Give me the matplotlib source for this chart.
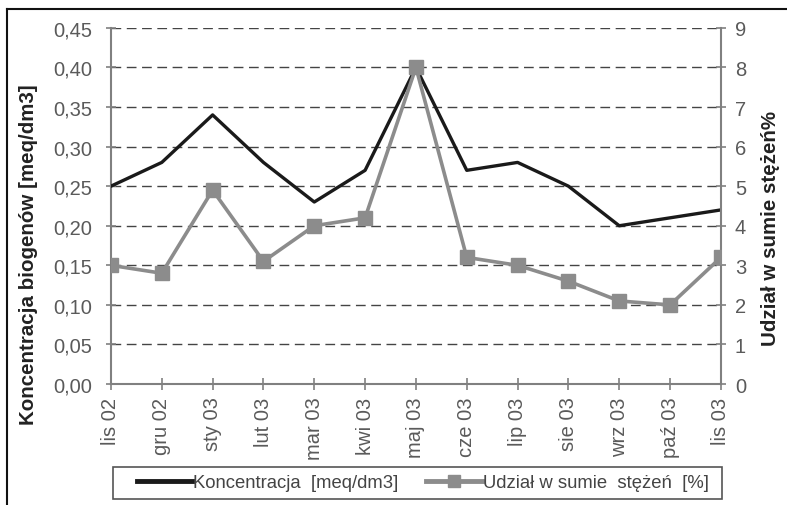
import matplotlib
matplotlib.use("Agg")
import matplotlib.pyplot as plt
from matplotlib.lines import Line2D
from matplotlib.patches import Rectangle

plt.rcParams['font.family'] = ['Liberation Sans', 'DejaVu Sans']

months = ["lis 02", "gru 02", "sty 03", "lut 03", "mar 03", "kwi 03", "maj 03",
          "cze 03", "lip 03", "sie 03", "wrz 03", "paź 03", "lis 03"]
konc = [0.25, 0.28, 0.34, 0.28, 0.23, 0.27, 0.40, 0.27, 0.28, 0.25, 0.20, 0.21, 0.22]
udzial = [3.0, 2.8, 4.9, 3.1, 4.0, 4.2, 8.0, 3.2, 3.0, 2.6, 2.1, 2.0, 3.2]
left_ticks = [0.00, 0.05, 0.10, 0.15, 0.20, 0.25, 0.30, 0.35, 0.40, 0.45]
right_ticks = [0, 1, 2, 3, 4, 5, 6, 7, 8, 9]

W, H = 787, 506
fig = plt.figure(figsize=(W / 100, H / 100), dpi=100)
ax = fig.add_axes([0.141, 0.239, 0.775, 0.704])
ax2 = ax.twinx()

x = list(range(len(months)))
tick_col = '#5a5a5a'
spine_col = '#808080'

for y in left_ticks[1:]:
    ax.axhline(y, color='#444444', lw=1.0, ls=(0, (7, 4)), zorder=0)

ax.plot(x, konc, color='#1a1a1a', lw=2.4, zorder=3)
ax2.plot(x, udzial, color='#8c8c8c', lw=2.6, marker='s', ms=9.5,
         markerfacecolor='#8c8c8c', markeredgecolor='#8c8c8c', zorder=4)

ax.set_xlim(0, len(months) - 1)
ax.set_ylim(0, 0.45)
ax2.set_ylim(0, 9)
ax.set_yticks(left_ticks)
ax.set_yticklabels([f"{v:.2f}".replace('.', ',') for v in left_ticks])
ax2.set_yticks(right_ticks)
ax2.set_yticklabels([str(v) for v in right_ticks])
ax.set_xticks(x)
ax.set_xticklabels(months, rotation=90)

for a in (ax, ax2):
    for s in a.spines.values():
        s.set_visible(False)
ax.spines['left'].set_visible(True)
ax.spines['bottom'].set_visible(True)
ax2.spines['right'].set_visible(True)
for s in (ax.spines['left'], ax.spines['bottom'], ax2.spines['right']):
    s.set_color(spine_col)
    s.set_linewidth(1.5)

ax.tick_params(axis='y', direction='inout', length=7, width=1.2, color=spine_col,
               labelsize=14.5, labelcolor=tick_col, pad=10)
ax.tick_params(axis='x', direction='inout', length=8, width=1.2, color=spine_col,
               labelsize=14.5, labelcolor=tick_col, pad=5)
ax2.tick_params(axis='y', direction='inout', length=7, width=1.2, color=spine_col,
                labelsize=14.5, labelcolor=tick_col, pad=6.5)

ax.set_ylabel("Koncentracja biogenów [meq/dm3]", fontsize=14.8, fontweight='bold',
              color='#222222')
ax.yaxis.set_label_coords(-0.119, 0.365)
ax2.set_ylabel("Udział w sumie stężeń%", fontsize=14.8, fontweight='bold',
               color='#222222')
ax2.yaxis.set_label_coords(1.066, 0.44)

# legend frame
fig.add_artist(Rectangle((113 / W, 1 - 500 / H), 609 / W, 32 / H,
                         transform=fig.transFigure, fill=False,
                         edgecolor='#555555', lw=1.2))
handles = [Line2D([0], [0], color='#1a1a1a', lw=3.5),
           Line2D([0], [0], color='#8c8c8c', lw=3.5, marker='s', ms=9)]
leg = fig.legend(handles, ["Koncentracja  [meq/dm3]", "Udział w sumie  stężeń  [%]"],
                 loc='center left', bbox_to_anchor=(137 / W, 1 - 484 / H), ncol=2,
                 frameon=False, fontsize=13.3, handlelength=3.0, columnspacing=1.5,
                 handletextpad=0.05, borderpad=0.0, borderaxespad=0.0)
for t in leg.get_texts():
    t.set_color('#444444')

# outer frame lines (left and top)
fig.add_artist(Line2D([7 / W, 7 / W], [0, 1 - 10 / H], transform=fig.transFigure,
                      color='#111111', lw=1.5))
fig.add_artist(Line2D([7 / W, 1], [1 - 10 / H, 1 - 10 / H], transform=fig.transFigure,
                      color='#111111', lw=1.5))

fig.savefig("out.png", dpi=100)
